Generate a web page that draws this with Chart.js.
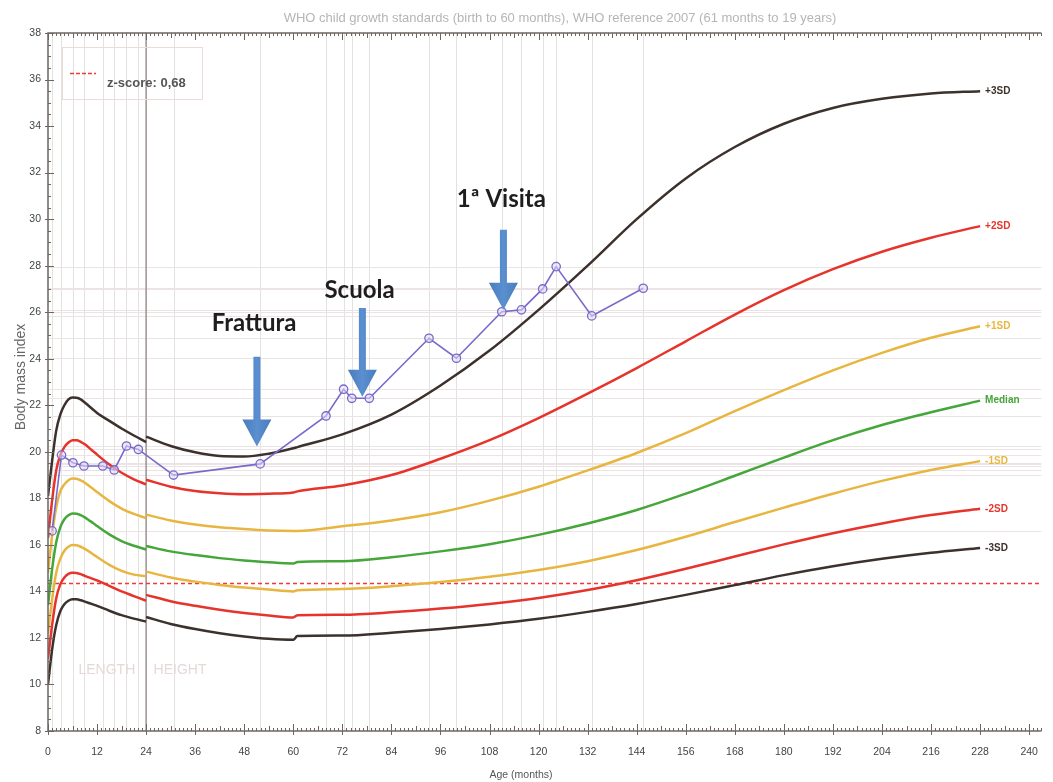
<!DOCTYPE html>
<html><head><meta charset="utf-8">
<script src="https://cdn.jsdelivr.net/npm/chart.js@4.4.1/dist/chart.umd.min.js"></script>
<style>html,body{margin:0;padding:0;background:#fff}canvas{display:block}</style>
</head><body>
<canvas id="c" width="1053" height="782"></canvas>
<script>
// ---------- DATA ----------
const chartTitle = 'WHO child growth standards (birth to 60 months), WHO reference 2007 (61 months to 19 years)';
const xTitle = 'Age (months)';
const yTitle = 'Body mass index';
const xTickValues = [0,12,24,36,48,60,72,84,96,108,120,132,144,156,168,180,192,204,216,228,240];
const xTickLabels = ['0','12','24','36','48','60','72','84','96','108','120','132','144','156','168','180','192','204','216','228','240'];
// curve ages: length-based (0-24), height-based (24-60), reference 2007 (61-228)
const curveAges = [0,1,2,3,4,5,6,7,8,9,10,11,12,15,18,21,24,
                   24,30,36,42,48,54,60,
                   61,72,84,96,108,120,132,144,156,168,180,192,204,216,228];
const sdPlus3  = [18.1,19.6,20.9,21.6,22.0,22.25,22.33,22.32,22.25,22.12,21.97,21.82,21.67,21.33,21.0,20.7,20.42,
                  20.65,20.25,19.98,19.82,19.8,19.92,20.15,
                  20.2,20.75,21.6,22.85,24.35,26.1,28.0,30.0,31.75,33.1,34.1,34.78,35.17,35.4,35.5];
const sdPlus2  = [16.3,17.9,19.2,19.85,20.2,20.4,20.5,20.5,20.43,20.32,20.18,20.03,19.88,19.45,19.1,18.82,18.6,
                  18.8,18.5,18.32,18.22,18.18,18.2,18.25,
                  18.3,18.55,19.0,19.7,20.5,21.45,22.5,23.6,24.75,25.9,26.95,27.85,28.6,29.2,29.7];
const sdPlus1  = [14.8,16.4,17.6,18.3,18.6,18.78,18.85,18.84,18.77,18.67,18.54,18.41,18.27,17.88,17.56,17.33,17.15,
                  17.3,17.05,16.88,16.76,16.68,16.62,16.6,
                  16.6,16.8,17.05,17.4,17.9,18.5,19.2,19.95,20.8,21.75,22.65,23.5,24.25,24.9,25.4];
const sdMedian = [13.4,14.95,16.1,16.75,17.1,17.27,17.35,17.34,17.28,17.18,17.06,16.94,16.81,16.45,16.16,15.96,15.8,
                  15.95,15.72,15.56,15.43,15.33,15.25,15.2,
                  15.26,15.3,15.47,15.72,16.03,16.43,16.92,17.5,18.2,18.97,19.75,20.5,21.15,21.7,22.2];
const sdMinus1 = [12.2,13.65,14.8,15.4,15.75,15.92,15.99,15.98,15.92,15.83,15.72,15.6,15.48,15.14,14.88,14.72,14.65,
                  14.85,14.6,14.42,14.28,14.17,14.08,14.0,
                  14.05,14.1,14.22,14.4,14.63,14.92,15.3,15.78,16.35,16.98,17.6,18.2,18.75,19.22,19.6];
const sdMinus2 = [11.1,12.55,13.7,14.3,14.6,14.75,14.8,14.79,14.74,14.67,14.6,14.54,14.47,14.24,14.0,13.8,13.6,
                  13.85,13.58,13.38,13.21,13.07,12.96,12.88,
                  12.98,13.0,13.1,13.26,13.46,13.72,14.06,14.48,14.97,15.5,16.02,16.5,16.92,17.28,17.55];
const sdMinus3 = [10.0,11.5,12.55,13.15,13.45,13.6,13.66,13.66,13.62,13.56,13.5,13.44,13.38,13.17,12.98,12.83,12.7,
                  12.9,12.6,12.38,12.2,12.06,11.96,11.92,
                  12.08,12.1,12.22,12.38,12.58,12.82,13.12,13.46,13.85,14.27,14.7,15.08,15.4,15.66,15.87];
const curveNames = ['+3SD','+2SD','+1SD','Median','-1SD','-2SD','-3SD'];
// patient measurements
const patientAges = [1,3.3,6.1,8.8,13.4,16.2,19.2,22.1,30.7,51.9,68.0,72.3,74.3,78.6,93.2,99.9,111.0,115.8,121.0,124.3,133.0,145.6];
const patientBmi  = [16.6,19.86,19.53,19.39,19.39,19.22,20.25,20.1,19.0,19.48,21.54,22.69,22.3,22.3,24.88,24.02,26.02,26.1,27.0,27.96,25.84,27.03];
// z-score line
const zScoreLabel = 'z-score: 0,68';
const zScoreBmi = 14.35;
// annotations
const arrowLabels = ['Frattura','Scuola','1ª Visita'];
const arrowAges   = [51.1, 76.9, 111.4];
const arrowTextAges = [50.4, 76.2, 110.9];
const arrowText   = [25.2, 26.6, 30.52];
const arrowTop    = [24.08, 26.18, 29.54];
const arrowTip    = [20.23, 22.37, 26.1];
// section labels
const sectionLabels = ['LENGTH','HEIGHT'];
const sectionAges = [14.4, 32.3];
const sectionBmi = 10.6;

// ---------- STYLE ----------
const curveColors = ['#3c312c','#e6342c','#e8b640','#45a63a','#e8b640','#e6342c','#3c312c'];
const axisColor = '#6e6560';

function curveData(vals){
  const out=[];
  for(let i=0;i<curveAges.length;i++){
    if(i>0 && curveAges[i]===curveAges[i-1]) out.push({x:curveAges[i],y:null});
    out.push({x:curveAges[i],y:vals[i]});
  }
  return out;
}
const curveSeries=[sdPlus3,sdPlus2,sdPlus1,sdMedian,sdMinus1,sdMinus2,sdMinus3];

const datasets=[{
  label:'patient',
  data:patientAges.map((a,i)=>({x:a,y:patientBmi[i]})),
  borderColor:'#7a6ac8', borderWidth:1.6,
  pointRadius:4.2, pointBorderWidth:1.3, pointBackgroundColor:'rgba(225,218,245,0.55)', pointBorderColor:'#7a6ac8',
  tension:0
}];
curveSeries.forEach((v,i)=>datasets.push({
  label:curveNames[i], data:curveData(v), borderColor:curveColors[i], borderWidth:2.5,
  pointRadius:0, cubicInterpolationMode:'monotone', spanGaps:false
}));

function drawArrow(ctx,x,yTop,yTip){
  const shaftW=7, headW=29, headH=27;
  ctx.save();
  const g=ctx.createLinearGradient(x-headW/2,0,x+headW/2,0);
  g.addColorStop(0,'#4a7cbd');g.addColorStop(0.5,'#5a8fd0');g.addColorStop(1,'#4a7cbd');
  ctx.fillStyle=g;
  ctx.beginPath();
  ctx.moveTo(x-shaftW/2,yTop);
  ctx.lineTo(x+shaftW/2,yTop);
  ctx.lineTo(x+shaftW/2,yTip-headH);
  ctx.lineTo(x+headW/2,yTip-headH);
  ctx.lineTo(x,yTip);
  ctx.lineTo(x-headW/2,yTip-headH);
  ctx.lineTo(x-shaftW/2,yTip-headH);
  ctx.closePath();
  ctx.fill();
  ctx.restore();
}

const decor={
  id:'decor',
  beforeDatasetsDraw(chart){
    const {ctx,chartArea:a,scales:{x,y}}=chart;
    ctx.save();
    ctx.strokeStyle='#e4e1e1';ctx.lineWidth=1;
    patientAges.forEach(v=>{const px=Math.round(x.getPixelForValue(v))+0.5;ctx.beginPath();ctx.moveTo(px,a.top);ctx.lineTo(px,a.bottom);ctx.stroke();});
    ctx.strokeStyle='#ece4e4';
    patientBmi.forEach(v=>{const py=Math.round(y.getPixelForValue(v))+0.5;ctx.beginPath();ctx.moveTo(a.left,py);ctx.lineTo(a.right,py);ctx.stroke();});
    ctx.strokeStyle='#9a9290';ctx.lineWidth=1.5;
    const p24=x.getPixelForValue(24);
    ctx.beginPath();ctx.moveTo(p24,a.top);ctx.lineTo(p24,a.bottom);ctx.stroke();
    ctx.fillStyle='#e6d8d8';ctx.font='14px "Liberation Sans", Arial';ctx.textAlign='center';ctx.textBaseline='middle';
    sectionLabels.forEach((t,i)=>ctx.fillText(t,x.getPixelForValue(sectionAges[i]),y.getPixelForValue(sectionBmi)));
    ctx.strokeStyle='#f03a3a';ctx.lineWidth=1.3;ctx.setLineDash([4,3]);
    const pz=Math.round(y.getPixelForValue(zScoreBmi))+0.5;
    ctx.beginPath();ctx.moveTo(a.left,pz);ctx.lineTo(a.right,pz);ctx.stroke();
    ctx.setLineDash([]);
    ctx.restore();
  },
  afterDatasetsDraw(chart){
    const {ctx,chartArea:a,scales:{x,y}}=chart;
    ctx.save();
    ctx.font='bold 10px "Liberation Sans", Arial';ctx.textAlign='left';ctx.textBaseline='middle';
    curveSeries.forEach((v,i)=>{
      ctx.fillStyle=curveColors[i];
      ctx.fillText(curveNames[i],x.getPixelForValue(curveAges[curveAges.length-1])+5,y.getPixelForValue(v[v.length-1]));
    });
    arrowLabels.forEach((t,i)=>{
      const px=x.getPixelForValue(arrowAges[i]);
      drawArrow(ctx,px,y.getPixelForValue(arrowTop[i]),y.getPixelForValue(arrowTip[i]));
      ctx.fillStyle='#1e1e1e';ctx.font='bold 24px Lato, "Open Sans", sans-serif';ctx.textAlign='center';ctx.textBaseline='alphabetic';
      ctx.fillText(t,x.getPixelForValue(arrowTextAges[i]),y.getPixelForValue(arrowText[i]));
    });
    ctx.strokeStyle='#f0d9d9';ctx.lineWidth=1;
    ctx.strokeRect(62.5,47.5,140,52);
    ctx.strokeStyle='#f03a3a';ctx.lineWidth=1.3;ctx.setLineDash([4,2]);
    ctx.beginPath();ctx.moveTo(70,73.5);ctx.lineTo(96,73.5);ctx.stroke();ctx.setLineDash([]);
    ctx.fillStyle='#555';ctx.font='bold 13px "Liberation Sans", Arial';ctx.textAlign='left';ctx.textBaseline='middle';
    ctx.fillText(zScoreLabel,107,83);
    ctx.strokeStyle=axisColor;ctx.lineWidth=1.5;
    ctx.beginPath();ctx.moveTo(a.left,a.bottom);ctx.lineTo(a.left,a.top);ctx.lineTo(a.right,a.top);ctx.stroke();
    ctx.beginPath();ctx.moveTo(a.left,a.bottom);ctx.lineTo(a.right,a.bottom);ctx.stroke();
    ctx.lineWidth=1;
    for(let m=0;m<=243;m++){
      const px=Math.round(x.getPixelForValue(m))+0.5;
      const major=m%12===0, mid=m%6===0;
      const len=major?7:(mid?5:3);
      ctx.beginPath();ctx.moveTo(px,a.bottom);ctx.lineTo(px,a.bottom-len);ctx.stroke();
      if(major){ctx.beginPath();ctx.moveTo(px,a.bottom);ctx.lineTo(px,a.bottom+4);ctx.stroke();}
      ctx.beginPath();ctx.moveTo(px,a.top);ctx.lineTo(px,a.top+len);ctx.stroke();
    }
    for(let v=8;v<=38;v+=0.5){
      const py=Math.round(y.getPixelForValue(v))+0.5;
      const major=v%2===0;
      ctx.beginPath();ctx.moveTo(a.left-(major?3:0),py);ctx.lineTo(a.left+(major?6:3),py);ctx.stroke();
    }
    ctx.fillStyle='#b8b4b4';ctx.font='13px "Liberation Sans", Arial';ctx.textAlign='center';ctx.textBaseline='middle';
    ctx.fillText(chartTitle,560,18);
    ctx.fillStyle='#555';ctx.font='10.5px "Liberation Sans", Arial';
    ctx.fillText(xTitle,521,775);
    ctx.fillStyle='#666';ctx.font='14px "Liberation Sans", Arial';
    ctx.translate(21,377);ctx.rotate(-Math.PI/2);ctx.fillText(yTitle,0,0);
    ctx.restore();
  }
};

new Chart(document.getElementById('c'),{
  type:'line',
  data:{datasets},
  options:{
    responsive:false, animation:false, devicePixelRatio:1,
    layout:{padding:{top:33,right:0,left:0,bottom:0}},
    plugins:{legend:{display:false},tooltip:{enabled:false},title:{display:false}},
    scales:{
      x:{type:'linear',min:0,max:243,
        afterFit(s){s.height=51;},
        afterBuildTicks(s){s.ticks=xTickValues.map(v=>({value:v}));},
        grid:{display:false,drawTicks:false},border:{display:false},
        ticks:{padding:15,color:'#444',font:{size:10.5,family:'"Liberation Sans", Arial'},maxRotation:0,autoSkip:false,
          callback:(v)=>{const i=xTickValues.indexOf(v);return i>=0?xTickLabels[i]:'';}}
      },
      y:{type:'linear',min:8,max:38,
        afterFit(s){s.width=48;},
        grid:{display:false,drawTicks:false},border:{display:false},
        ticks:{stepSize:2,padding:7,color:'#444',font:{size:10.5,family:'"Liberation Sans", Arial'}}
      }
    }
  },
  plugins:[decor]
});
</script>
</body></html>
